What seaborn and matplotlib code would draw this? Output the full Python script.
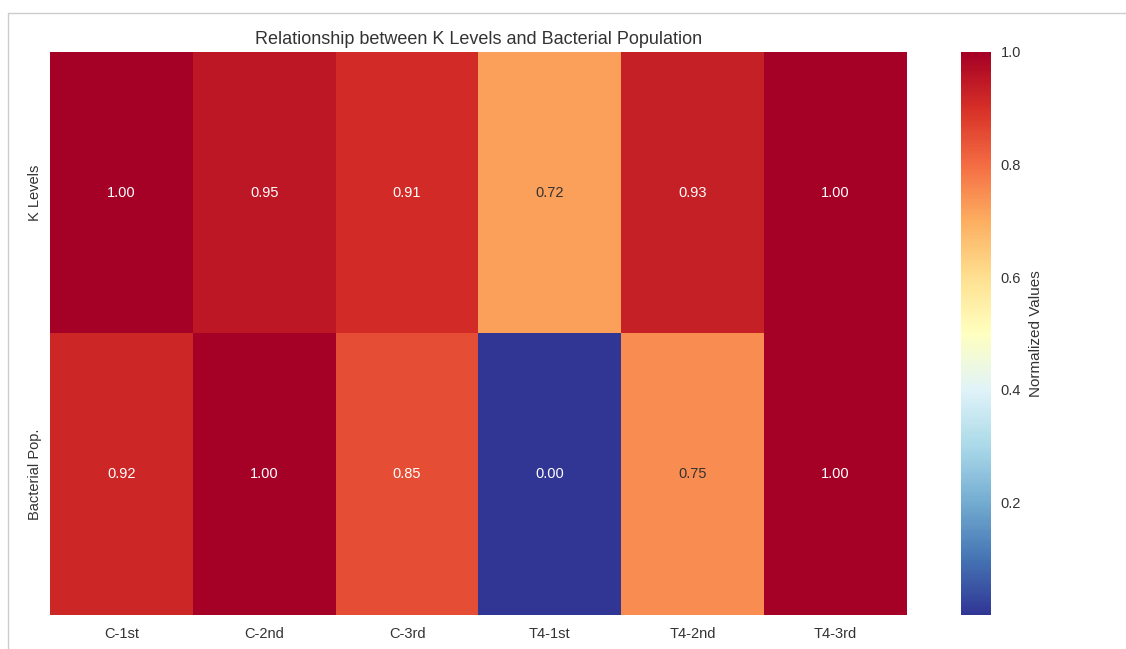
import numpy as np
import pandas as pd
import matplotlib.pyplot as plt
import seaborn as sns
from matplotlib.lines import Line2D

# data
stages = ["C-1st", "C-2nd", "C-3rd", "T4-1st", "T4-2nd", "T4-3rd"]
metrics = ["K Levels", "Bacterial Pop."]
k_levels = [1.00, 0.95, 0.91, 0.72, 0.93, 1.00]
bacterial_pop = [0.92, 1.00, 0.85, 0.00, 0.75, 1.00]

df = pd.DataFrame([k_levels, bacterial_pop], index=metrics, columns=stages)

sns.set_style("whitegrid")
plt.rcParams["font.family"] = ["Liberation Sans", "DejaVu Sans"]

fig = plt.figure(figsize=(11.26, 6.49), dpi=100)
ax = fig.add_axes([0.0444, 0.0524, 0.7611, 0.8675])
cax = fig.add_axes([0.8535, 0.0524, 0.0266, 0.8675])

sns.heatmap(df, ax=ax, cbar_ax=cax, cmap="RdYlBu_r", annot=True, fmt=".2f",
            annot_kws={"fontsize": 10.5},
            cbar_kws={"label": "Normalized Values", "ticks": [0.2, 0.4, 0.6, 0.8, 1.0]})

# light (orange) cells get dark text like the original
for t in ax.texts:
    v = float(t.get_text())
    if 0.5 < v < 0.8:
        t.set_color("#333333")

ax.set_title("Relationship between K Levels and Bacterial Population", fontsize=13, color="#333333", pad=6)
ax.tick_params(axis="x", length=0, labelsize=10.5, colors="#333333", pad=9)
ax.tick_params(axis="y", length=0, labelsize=10.5, colors="#333333", pad=6)
ax.set_xlabel("")
ax.set_ylabel("")
cax.tick_params(length=0, labelsize=10.5, colors="#333333", pad=7)
cax.yaxis.label.set_size(11)
cax.yaxis.label.set_color("#333333")
cax.yaxis.labelpad = 6
for sp in cax.spines.values():
    sp.set_visible(False)

# thin frame lines from the screenshot edge
fig.add_artist(Line2D([8 / 1126, 1], [1 - 13 / 649, 1 - 13 / 649], color="#cccccc", lw=1))
fig.add_artist(Line2D([8 / 1126, 8 / 1126], [0, 1 - 13 / 649], color="#cccccc", lw=1))

plt.savefig("out.png", dpi=100)
